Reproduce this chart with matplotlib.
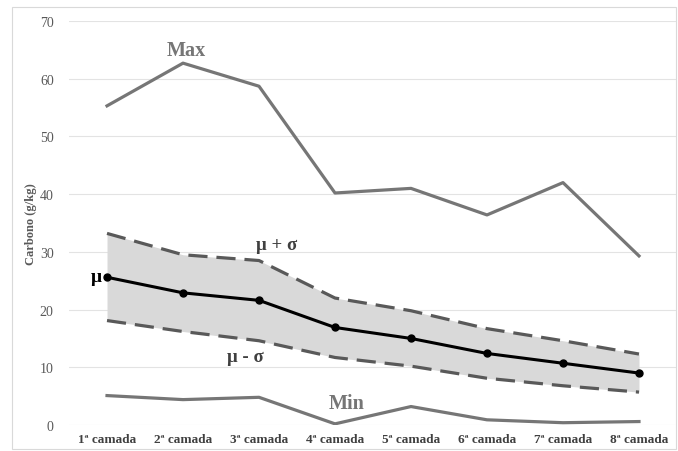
import matplotlib
matplotlib.use("Agg")
import matplotlib.pyplot as plt
from matplotlib.patches import Rectangle

# Camadas e valores de carbono (g/kg)
camadas = ["1ª camada", "2ª camada", "3ª camada", "4ª camada",
           "5ª camada", "6ª camada", "7ª camada", "8ª camada"]
maximo = [55.3, 62.7, 58.7, 40.2, 41.0, 36.4, 42.0, 29.3]
media_mais_dp = [33.2, 29.5, 28.5, 22.0, 19.8, 16.7, 14.6, 12.3]
media = [25.6, 22.9, 21.6, 16.9, 15.0, 12.4, 10.7, 9.0]
media_menos_dp = [18.1, 16.2, 14.6, 11.7, 10.2, 8.1, 6.8, 5.7]
minimo = [5.1, 4.4, 4.8, 0.2, 3.2, 0.9, 0.4, 0.6]
yticks = [0, 10, 20, 30, 40, 50, 60, 70]

plt.rcParams['font.family'] = ['Liberation Serif', 'DejaVu Serif']

fig = plt.figure(figsize=(6.78, 4.52), dpi=100)
ax = fig.add_axes([0.1018, 0.0575, 0.8967, 0.8938])

x = list(range(len(camadas)))

# faixa media +- desvio
ax.fill_between(x, media_menos_dp, media_mais_dp, color='#d9d9d9', linewidth=0, zorder=1)
ax.plot(x, media_mais_dp, color='#595959', linewidth=2.3, dashes=(6, 2.8), zorder=2)
ax.plot(x, media_menos_dp, color='#595959', linewidth=2.3, dashes=(6, 2.8), zorder=2)
ax.plot(x, media, color='black', linewidth=2.2, marker='o', markersize=5, zorder=3)

ax.plot(x, maximo, color='#767676', linewidth=2.3, zorder=2)
ax.plot(x, minimo, color='#767676', linewidth=2.3, zorder=2)

# rotulos
ax.text(1.04, 65.0, "Max", color='#767676', fontsize=14.5, fontweight='bold', ha='center', va='center')
ax.text(3.15, 3.8, "Min", color='#767676', fontsize=14.5, fontweight='bold', ha='center', va='center')
ax.text(2.23, 31.3, "μ + σ", color='#404040', fontsize=13.5, fontweight='bold', ha='center', va='center')
ax.text(1.82, 11.8, "μ - σ", color='#404040', fontsize=13.5, fontweight='bold', ha='center', va='center')
ax.text(-0.07, 25.8, "μ", color='black', fontsize=14, fontweight='bold', ha='right', va='center')

ax.set_xlim(-0.5, 7.5)
ax.set_ylim(0, 70)
ax.set_yticks(yticks)
ax.set_xticks(x)
ax.set_xticklabels(camadas, fontsize=9.5, fontweight='bold', color='#404040')
ax.tick_params(axis='y', labelsize=10, labelcolor='#595959', length=0, pad=11)
ax.tick_params(axis='x', length=0, pad=6)
ax.grid(axis='y', color='#e3e3e3', linewidth=0.8)
ax.set_axisbelow(True)
for s in ax.spines.values():
    s.set_visible(False)
ax.set_ylabel("Carbono (g/kg)", fontsize=9, fontweight='bold', color='#595959', labelpad=2)

# moldura do grafico
fig.patches.append(Rectangle((0.017, 0.005), 0.98, 0.978, transform=fig.transFigure,
                             fill=False, edgecolor='#d9d9d9', linewidth=0.8))

fig.savefig("out.png", dpi=100)
